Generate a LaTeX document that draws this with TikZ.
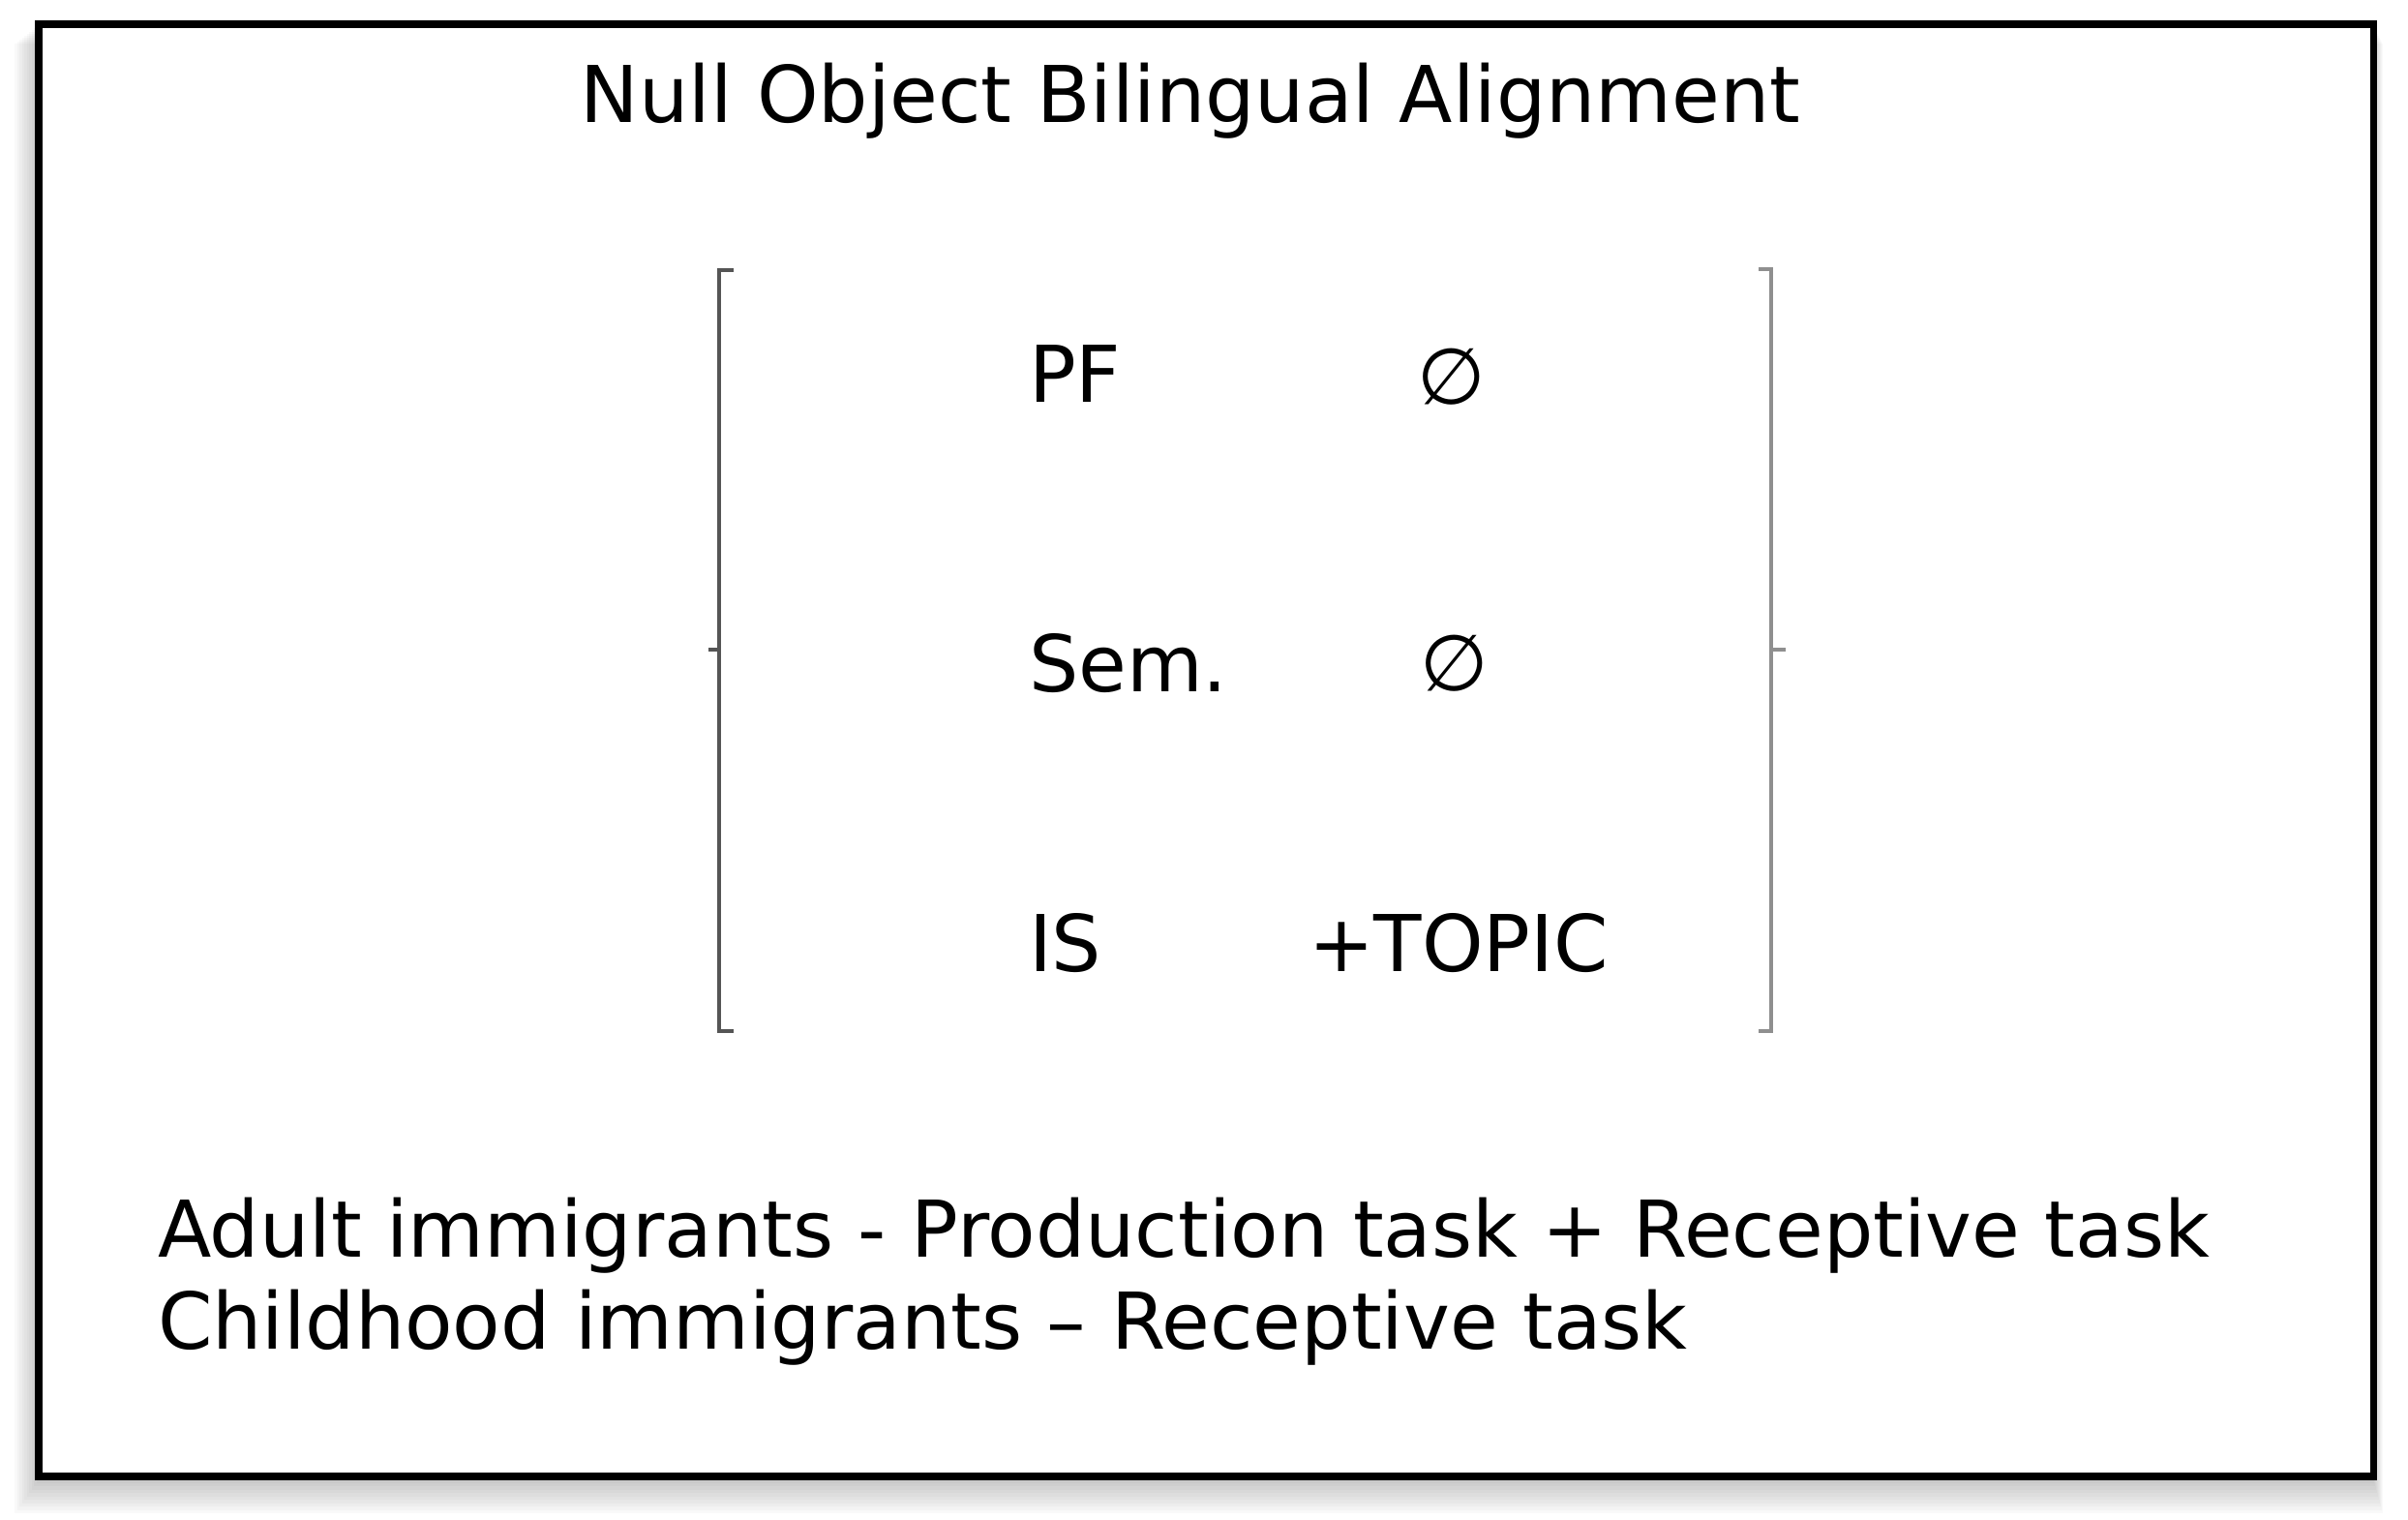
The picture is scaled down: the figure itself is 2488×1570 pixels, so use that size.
\documentclass[tikz,border=0pt]{standalone}
\usepackage{fontspec}
\setmainfont{DejaVu Sans}
\usetikzlibrary{positioning}
\definecolor{darkgrey}{HTML}{555555}
\definecolor{lightgrey}{HTML}{8F8F8F}
\tikzset{
  % all the text of the slide
  txt/.style={inner sep=0pt, outer sep=0pt, anchor=base west, font=\fontsize{23}{28}\selectfont},
  % the empty set symbols
  nul/.style={inner sep=0pt, font=\fontsize{23}{28}\selectfont},
  % the two brackets
  brak/.style={line width=1.4pt},
  frame/.style={draw=black, fill=white, line width=2pt},
}
\begin{document}
\begin{tikzpicture}[x=0.01cm, y=-0.01cm]
  \useasboundingbox (0,0) rectangle (2488,1570);

  % soft shadow under the frame
  \foreach \i in {1,...,10}
    \fill[black, opacity=0.025] (40-\i*2.5, 25+\i*2) rectangle (2452+\i*1, 1528+\i*3.5);
  \draw[frame] (40,25) rectangle (2452,1525);

  \node[txt, anchor=base] (title) at (1230,127) {Null Object Bilingual Alignment};

  \node[txt] (pf) at (1063,416) {PF};
  \node[nul] (pfnull) at (1500,389) {∅};

  \node[txt] (sem) at (1063,714) {Sem.};
  \node[nul] (semnull) at (1503,685) {∅};

  \node[txt] (is) at (1063,1003) {IS};
  \node[txt] (topic) at (1352,1003) {+TOPIC};

  \draw[brak, darkgrey] (758,279) -- (743,279) -- (743,1065) -- (758,1065);
  \draw[brak, darkgrey] (743,671) -- (732,671);
  \draw[brak, lightgrey] (1817,278) -- (1830,278) -- (1830,1065) -- (1817,1065);
  \draw[brak, lightgrey] (1830,671) -- (1845,671);

  \node[txt] (adult) at (163,1298) {Adult immigrants - Production task + Receptive task};
  \node[txt] (child) at (163,1393) {Childhood immigrants – Receptive task};
\end{tikzpicture}
\end{document}
